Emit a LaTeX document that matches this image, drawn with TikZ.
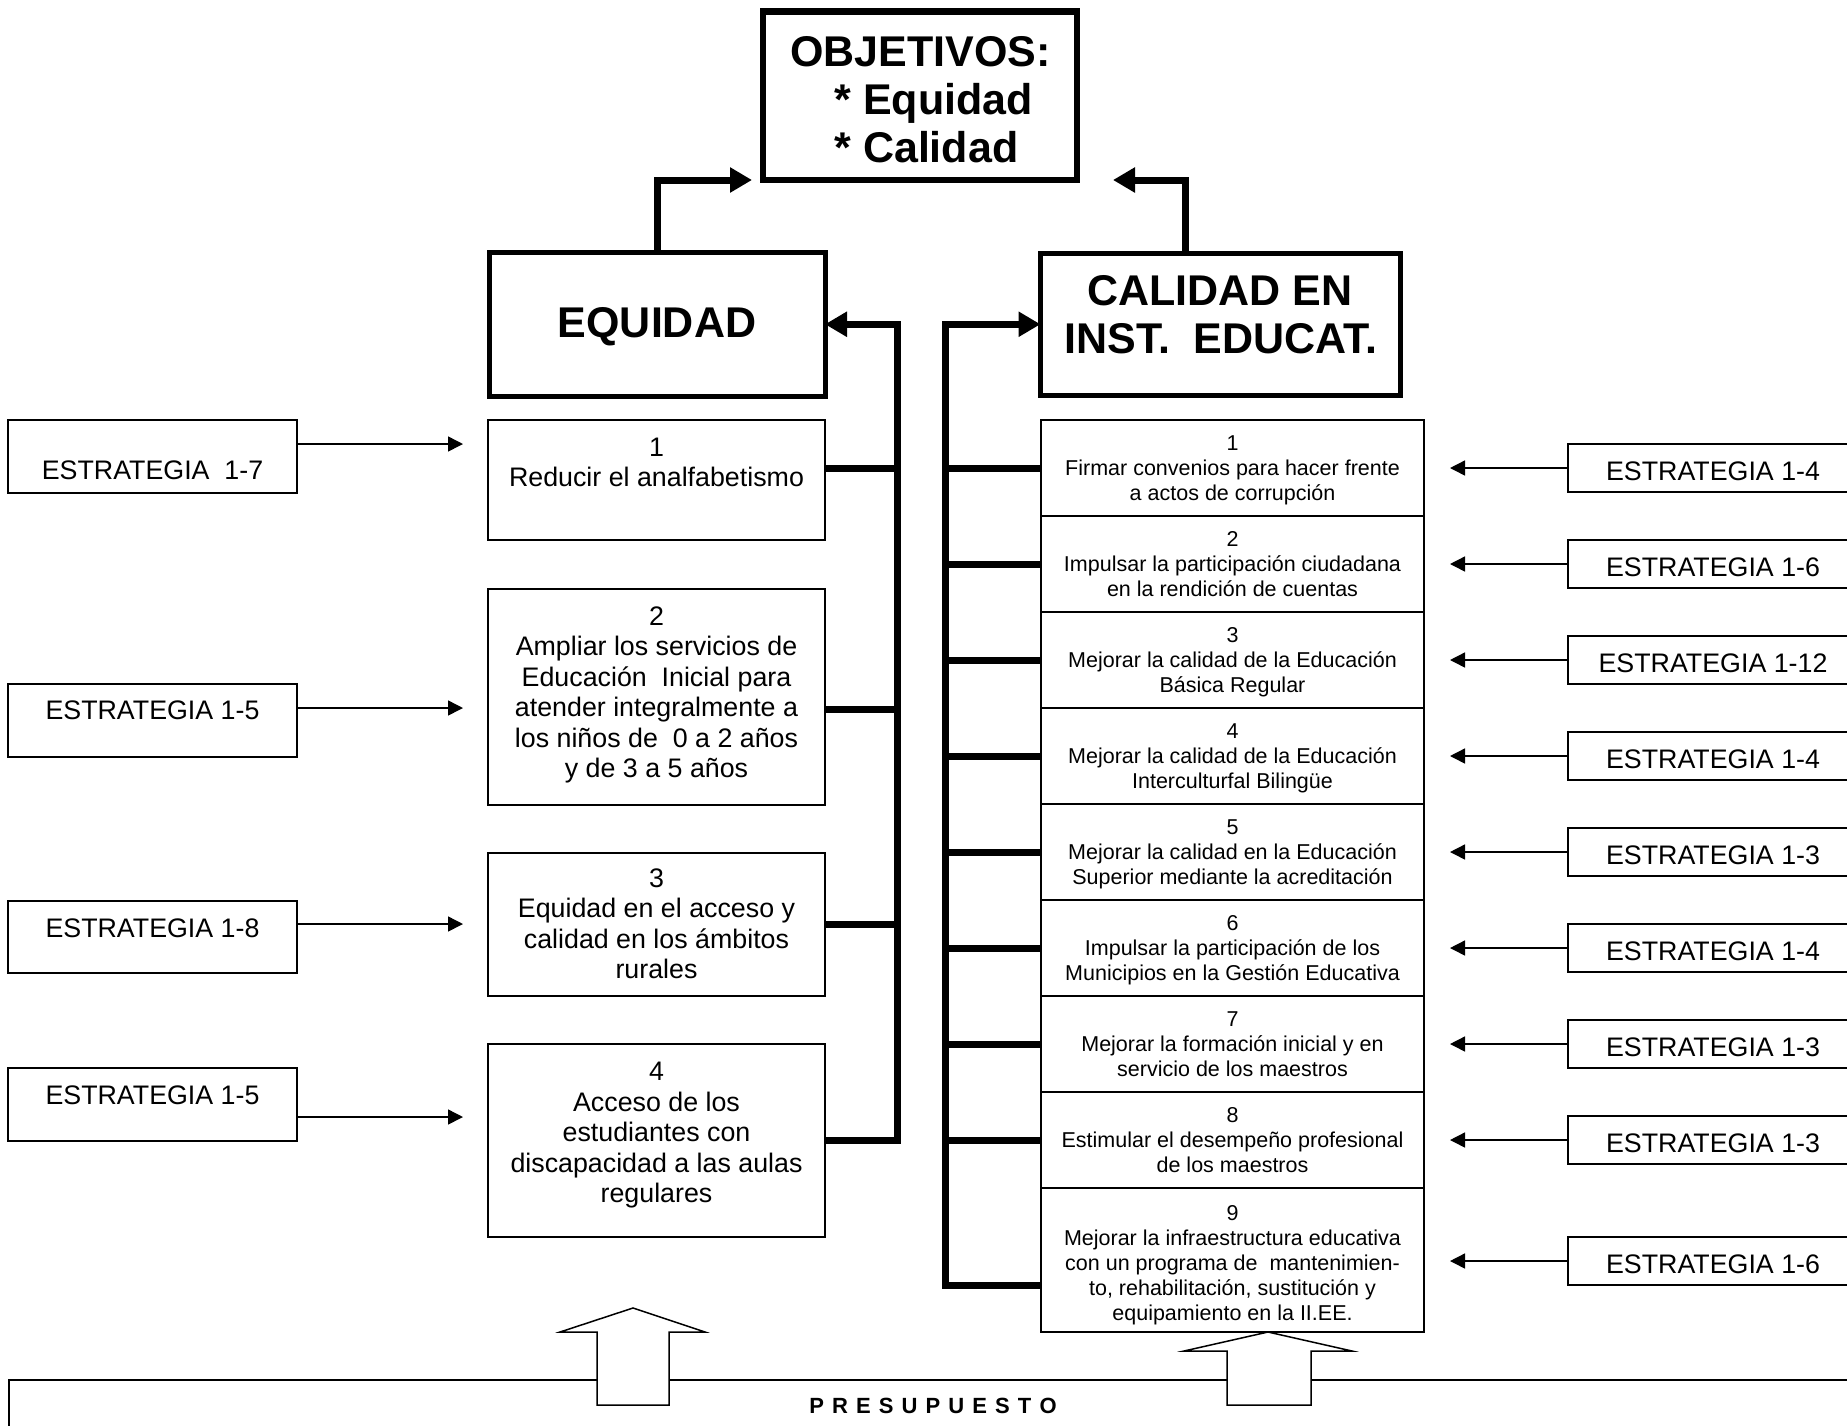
\documentclass[tikz,border=0pt]{standalone}
\usepackage{fontspec}
\setmainfont{Liberation Sans}
\usetikzlibrary{arrows.meta,fit}
\newcommand\hdfont{\fontsize{21.5}{24}\selectfont\bfseries}
\newcommand\bxfont{\fontsize{13.4}{15.25}\selectfont}
\newcommand\rwfont{\fontsize{10.75}{12.5}\selectfont}
\newcommand\stfont{\fontsize{13.4}{15}\selectfont}
\newcommand\prfont{\fontsize{11}{13}\selectfont\bfseries\spaceskip=4.05pt\relax}
\begin{document}
\begin{tikzpicture}[x=0.5pt,y=-0.5pt,
  thinbox/.style={draw, line width=0.75pt, inner sep=0pt, outer sep=0pt},
  midbox/.style={draw, line width=2.5pt, inner sep=0pt, outer sep=0pt},
  topbox/.style={draw, line width=3.3pt, inner sep=0pt, outer sep=0pt},
  head/.style={font=\hdfont, inner sep=0pt},
  boxtxt/.style={font=\bxfont, align=center, inner sep=0pt},
  rowtxt/.style={font=\rwfont, align=center, inner sep=0pt},
  strattxt/.style={font=\stfont, inner sep=0pt, anchor=base},
  bus/.style={line width=3.5pt, line join=miter},
  busarrow/.style={bus, -{Triangle[length=11pt,width=12pt]}},
  thinarrow/.style={line width=0.75pt, -{Triangle[length=7.5pt,width=7.5pt]}},
  blockarrow/.style={draw, line width=0.75pt, fill=white, line join=miter},
]
\clip (0,0) rectangle (1847,1425);

% ---- top boxes
\node[fit={(763,11.5)(1077,180)}, topbox] (obj) {};
\node[head, anchor=base west] (objt1) at (790,66) {OBJETIVOS:};
\node[head, anchor=base west] (objt2) at (834,114) {* Equidad};
\node[head, anchor=base west] (objt3) at (834,162) {* Calidad};

\node[fit={(489,252.5)(825,396)}, midbox] (eq) {};
\node[head, anchor=base] (eqt) at (657,337) {EQUIDAD};
\node[fit={(1040.5,253.5)(1400,395)}, midbox] (cal) {};
\node[head, anchor=base] (calt1) at (1220,305) {CALIDAD EN};
\node[head, anchor=base] (calt2) at (1221,353) {INST.\ \ EDUCAT.};

% ---- helper coordinates
\coordinate (objL) at (752,180);
\coordinate (objR) at (1113,180);
\coordinate (bL) at (897,0);
\coordinate (bR) at (945,0);
\coordinate (tipL) at (463,0);
\coordinate (tipR) at (1450,0);

% ---- left column boxes
\node[fit={(488,420)(825,540)}, thinbox] (b1) {};
\node[boxtxt] (b1t) at (656.5,465.5) {\strut1\\\strut Reducir el analfabetismo};
\node[fit={(488,589)(825,805)}, thinbox] (b2) {};
\node[boxtxt] (b2t) at (656.5,695.5) {\strut2\\Ampliar los servicios de\\Educación\ \ Inicial para\\atender integralmente a\\los niños de\ \ 0 a 2 años\\\strut y de 3 a 5 años};
\node[fit={(488,853)(825,996)}, thinbox] (b3) {};
\node[boxtxt] (b3t) at (656.5,927) {\strut3\\Equidad en el acceso y\\calidad en los ámbitos\\\strut rurales};
\node[fit={(488,1044)(825,1237)}, thinbox] (b4) {};
\node[boxtxt] (b4t) at (656.5,1135.5) {\strut4\\Acceso de los\\estudiantes con\\discapacidad a las aulas\\\strut regulares};

% ---- right column rows
\node[fit={(1041,420)(1424,516)}, thinbox] (r1) {};
\node[rowtxt] (r1t) at (1232.5,470.7) {\strut1\\Firmar convenios para hacer frente\\\strut a actos de corrupción};
\node[fit={(1041,516)(1424,612)}, thinbox] (r2) {};
\node[rowtxt] (r2t) at (1232.5,566.7) {\strut2\\Impulsar la participación ciudadana\\\strut en la rendición de cuentas};
\node[fit={(1041,612)(1424,708)}, thinbox] (r3) {};
\node[rowtxt] (r3t) at (1232.5,662.7) {\strut3\\Mejorar la calidad de la Educación\\\strut Básica Regular};
\node[fit={(1041,708)(1424,804)}, thinbox] (r4) {};
\node[rowtxt] (r4t) at (1232.5,758.7) {\strut4\\Mejorar la calidad de la Educación\\\strut Interculturfal Bilingüe};
\node[fit={(1041,804)(1424,900)}, thinbox] (r5) {};
\node[rowtxt] (r5t) at (1232.5,854.7) {\strut5\\Mejorar la calidad en la Educación\\\strut Superior mediante la acreditación};
\node[fit={(1041,900)(1424,996)}, thinbox] (r6) {};
\node[rowtxt] (r6t) at (1232.5,950.7) {\strut6\\Impulsar la participación de los\\\strut Municipios en la Gestión Educativa};
\node[fit={(1041,996)(1424,1092)}, thinbox] (r7) {};
\node[rowtxt] (r7t) at (1232.5,1046.7) {\strut7\\Mejorar la formación inicial y en\\\strut servicio de los maestros};
\node[fit={(1041,1092)(1424,1188)}, thinbox] (r8) {};
\node[rowtxt] (r8t) at (1232.5,1142.7) {\strut8\\Estimular el desempeño profesional\\\strut de los maestros};
\node[fit={(1041,1188)(1424,1332)}, thinbox] (r9) {};
\node[rowtxt] (r9t) at (1232.5,1265) {\strut9\\Mejorar la infraestructura educativa\\con un programa de\ \ mantenimien-\\to, rehabilitación, sustitución y\\\strut equipamiento en la II.EE.};

% ---- left strategies
\node[fit={(8,420)(297,493)}, thinbox] (s1) {};
\node[strattxt] (s1t) at (152.5,479) {ESTRATEGIA\ \ 1-7};
\node[fit={(8,684)(297,757)}, thinbox] (s2) {};
\node[strattxt] (s2t) at (152.5,719) {ESTRATEGIA 1-5};
\node[fit={(8,901)(297,973)}, thinbox] (s3) {};
\node[strattxt] (s3t) at (152.5,937) {ESTRATEGIA 1-8};
\node[fit={(8,1068)(297,1141)}, thinbox] (s4) {};
\node[strattxt] (s4t) at (152.5,1104) {ESTRATEGIA 1-5};
\draw[thinarrow] (s1.east |- 0,444) -- (tipL |- 0,444);
\draw[thinarrow] (s2.east |- 0,708) -- (tipL |- 0,708);
\draw[thinarrow] (s3.east |- 0,924) -- (tipL |- 0,924);
\draw[thinarrow] (s4.east |- 0,1117) -- (tipL |- 0,1117);

% ---- right strategies
\foreach \i/\c/\lab in {1/468/1-4, 2/564/1-6, 3/660/1-12, 4/756/1-4, 5/852/1-3, 6/948/1-4, 7/1044/1-3, 8/1140/1-3, 9/1261/1-6} {
  \node[fit={(1568,\c-24)(1860,\c+24)}, thinbox] (sr\i) {};
  \node[strattxt] (srt\i) at (1713,\c+12) {ESTRATEGIA \lab};
  \draw[thinarrow] (sr\i.west) -- (sr\i.west -| tipR);
}

% ---- thick connectors
\draw[busarrow] (eq.north) |- (objL);
\draw[busarrow] ([xshift=-17.5pt]cal.north) |- (objR);
\draw[busarrow] (b4.east) -- (b4.east -| bL) -- (bL |- eq.east) -- (eq.east);
\draw[bus] (b1.east |- 0,468) -- (bL |- 0,468);
\draw[bus] (b2.east |- 0,709) -- (bL |- 0,709);
\draw[bus] (b3.east |- 0,924) -- (bL |- 0,924);
\draw[busarrow] (r9.west |- 0,1285) -- (bR |- 0,1285) -- (bR |- cal.west) -- (cal.west);
\foreach \i in {1,...,8} { \draw[bus] (bR |- r\i.west) -- (r\i.west); }

% ---- budget box and block arrows
\node[fit={(9,1380)(1880,1460)}, thinbox] (pres) {};
\node[font=\prfont, inner sep=0pt, anchor=base] (prest) at (933,1413) {P R E S U P U E S T O};
\draw[blockarrow] (597,1405) -- (597,1332) -- (560,1332) -- (633,1308) -- (705,1332) -- (669,1332) -- (669,1405) -- cycle;
\draw[blockarrow] (1227,1405) -- (1227,1351) -- (1184,1351) -- (1268,1332) -- (1352,1351) -- (1311,1351) -- (1311,1405) -- cycle;
\end{tikzpicture}
\end{document}
